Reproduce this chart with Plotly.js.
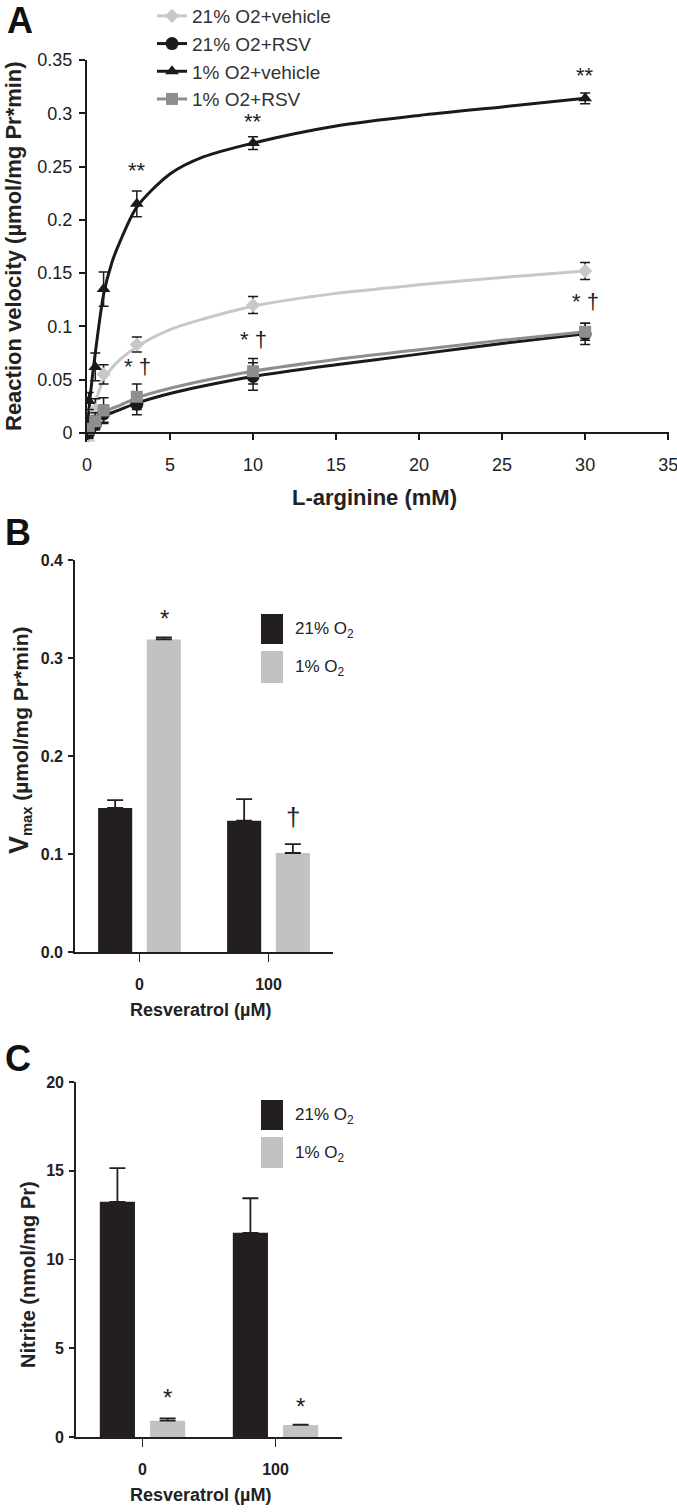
<!DOCTYPE html>
<html><head><meta charset="utf-8">
<script src="https://cdn.plot.ly/plotly-3.0.1.min.js"></script>
<style>html,body{margin:0;padding:0;background:#fff}</style>
</head><body><div id="chart" style="width:677px;height:1512px"></div>
<script>
// ---- Panel A data ----
const argX = [0.1, 0.5, 1, 3, 10, 30];
const veh21 = [-0.008, 0.022, 0.055, 0.083, 0.120, 0.152];
const veh21Err = [0.005, 0.010, 0.009, 0.007, 0.008, 0.008];
const rsv21 = [0.000, 0.008, 0.018, 0.027, 0.053, 0.093];
const rsv21Err = [0.005, 0.008, 0.008, 0.010, 0.013, 0.010];
const veh1 = [0.030, 0.062, 0.135, 0.215, 0.272, 0.314];
const veh1Err = [0.008, 0.013, 0.016, 0.012, 0.006, 0.005];
const rsv1 = [0.004, 0.011, 0.021, 0.034, 0.058, 0.095];
const rsv1Err = [0.005, 0.008, 0.012, 0.012, 0.012, 0.008];
// fitted curves
const fitX = [0, 0.2, 0.5, 1, 1.5, 2, 3, 5, 7, 10, 15, 20, 25, 30];
const fitVeh21 = [-0.010, 0.002, 0.028, 0.050, 0.061, 0.069, 0.081, 0.097, 0.107, 0.119, 0.131, 0.139, 0.146, 0.152];
const fitRsv21 = [0, 0.005, 0.010, 0.016, 0.019, 0.022, 0.028, 0.037, 0.044, 0.053, 0.064, 0.074, 0.084, 0.093];
const fitVeh1 = [0, 0.035, 0.075, 0.130, 0.160, 0.180, 0.212, 0.243, 0.259, 0.272, 0.288, 0.298, 0.306, 0.314];
const fitRsv1 = [0, 0.006, 0.012, 0.019, 0.023, 0.026, 0.033, 0.042, 0.049, 0.058, 0.069, 0.078, 0.087, 0.095];
const seriesNames = ['21% O2+vehicle', '21% O2+RSV', '1% O2+vehicle', '1% O2+RSV'];
const xTicksA = [0, 5, 10, 15, 20, 25, 30, 35];
const yTicksA = [0, 0.05, 0.1, 0.15, 0.2, 0.25, 0.3, 0.35];

// ---- Panel B data ----
const rsvCats = ['0', '100'];
const vmax21 = [0.147, 0.134];
const vmax21Err = [0.008, 0.022];
const vmax1 = [0.319, 0.101];
const vmax1Err = [0.002, 0.009];

// ---- Panel C data ----
const nitrite21 = [13.25, 11.5];
const nitrite21Err = [1.9, 1.95];
const nitrite1 = [0.92, 0.68];
const nitrite1Err = [0.13, 0.02];

const W = 677, H = 1512;
const px = v => v / W;
const py = v => 1 - v / H;
const FA = 'Liberation Sans, Arial, sans-serif';
const BLK = '#1a1a1a', LG = '#c8c8c8', MG = '#8e8e8e';
const BARBLK = '#231f20', BARGRY = '#c1c2c4';

const styles = [
  {color: LG, symbol: 'diamond', size: 11},
  {color: BLK, symbol: 'circle', size: 13},
  {color: BLK, symbol: 'triangle-up', size: 12},
  {color: MG, symbol: 'square', size: 12}
];
const dataY = [veh21, rsv21, veh1, rsv1];
const dataE = [veh21Err, rsv21Err, veh1Err, rsv1Err];
const fitY = [fitVeh21, fitRsv21, fitVeh1, fitRsv1];

const traces = [];
for (let i = 0; i < 4; i++) {
  traces.push({
    x: fitX, y: fitY[i], xaxis: 'x', yaxis: 'y', mode: 'lines',
    line: {color: styles[i].color, width: 3, shape: 'spline', smoothing: 0.8},
    showlegend: false, hoverinfo: 'skip'
  });
}
for (let i = 0; i < 4; i++) {
  traces.push({
    x: argX, y: dataY[i], xaxis: 'x', yaxis: 'y', mode: 'markers',
    marker: {color: styles[i].color, symbol: styles[i].symbol, size: styles[i].size, line: {width: 0}},
    error_y: {type: 'data', array: dataE[i], visible: true, color: BLK, thickness: 1.5, width: 5},
    showlegend: false
  });
}
for (let i = 0; i < 4; i++) {
  traces.push({
    x: [null], y: [null], xaxis: 'x', yaxis: 'y', mode: 'lines+markers',
    name: seriesNames[i], legendgroup: 'g' + i,
    line: {color: styles[i].color, width: 3},
    marker: {color: styles[i].color, symbol: styles[i].symbol, size: styles[i].size}
  });
}
// Panel B bars
traces.push({type: 'bar', x: rsvCats, y: vmax21, xaxis: 'x2', yaxis: 'y2', marker: {color: BARBLK},
  error_y: {type: 'data', array: vmax21Err, arrayminus: [0, 0], symmetric: false, color: BARBLK, thickness: 1.8, width: 8},
  showlegend: false});
traces.push({type: 'bar', x: rsvCats, y: vmax1, xaxis: 'x2', yaxis: 'y2', marker: {color: BARGRY},
  error_y: {type: 'data', array: vmax1Err, arrayminus: [0, 0], symmetric: false, color: BARBLK, thickness: 1.8, width: 8},
  showlegend: false});
// Panel C bars
traces.push({type: 'bar', x: rsvCats, y: nitrite21, xaxis: 'x3', yaxis: 'y3', marker: {color: BARBLK},
  error_y: {type: 'data', array: nitrite21Err, arrayminus: [0, 0], symmetric: false, color: BARBLK, thickness: 1.8, width: 8},
  showlegend: false});
traces.push({type: 'bar', x: rsvCats, y: nitrite1, xaxis: 'x3', yaxis: 'y3', marker: {color: BARGRY},
  error_y: {type: 'data', array: nitrite1Err, arrayminus: [0, 0], symmetric: false, color: BARBLK, thickness: 1.8, width: 8},
  showlegend: false});

const axA = {showline: true, linecolor: BLK, linewidth: 2, ticks: 'outside', ticklen: 6, tickwidth: 2, tickcolor: BLK,
  showgrid: false, zeroline: false, tickfont: {family: FA, size: 18, color: '#222'}, ticklabeloverflow: 'allow'};
const axB = {showline: true, linecolor: BARBLK, linewidth: 1.8, ticks: 'outside', tickwidth: 1.8, tickcolor: BARBLK,
  showgrid: false, zeroline: false, tickfont: {family: FA, size: 16, color: '#222', weight: 'bold'}};

const ann = [];
function txt(x, y, t, o) { ann.push(Object.assign({x: x, y: y, text: t, showarrow: false, xanchor: 'center', yanchor: 'middle'}, o)); }
const P = {xref: 'paper', yref: 'paper'};
// panel letters
const letF = {family: FA, size: 36, color: '#111', weight: 'bold'};
txt(px(20), py(20), 'A', Object.assign({font: letF}, P));
txt(px(18), py(532), 'B', Object.assign({font: letF}, P));
txt(px(18), py(1058), 'C', Object.assign({font: letF}, P));
// axis titles
txt(px(14), py(246), 'Reaction velocity (µmol/mg Pr*min)', Object.assign({textangle: -90,
  font: {family: FA, size: 22, color: '#222', weight: 'bold'}}, P));
txt(px(374), py(497), 'L-arginine (mM)', Object.assign({font: {family: FA, size: 22, color: '#222', weight: 'bold'}}, P));
txt(px(19), py(740), '<span style="font-size:27px">V</span><sub>max</sub> (µmol/mg Pr*min)', Object.assign({textangle: -90,
  font: {family: FA, size: 21, color: '#222', weight: 'bold'}}, P));
txt(px(200), py(1010), 'Resveratrol (µM)', Object.assign({font: {family: FA, size: 18, color: '#222', weight: 'bold'}}, P));
txt(px(28), py(1275), 'Nitrite (nmol/mg Pr)', Object.assign({textangle: -90,
  font: {family: FA, size: 20, color: '#222', weight: 'bold'}}, P));
txt(px(200), py(1495), 'Resveratrol (µM)', Object.assign({font: {family: FA, size: 18, color: '#222', weight: 'bold'}}, P));
// significance marks, panel A
const sigF = {family: FA, size: 22, color: '#222'};
txt(3, 0.246, '**', {xref: 'x', yref: 'y', font: sigF});
txt(10, 0.292, '**', {xref: 'x', yref: 'y', font: sigF});
txt(30, 0.335, '**', {xref: 'x', yref: 'y', font: sigF});
txt(3.05, 0.062, '* †', {xref: 'x', yref: 'y', font: sigF});
txt(10.05, 0.088, '* †', {xref: 'x', yref: 'y', font: sigF});
txt(30.05, 0.123, '* †', {xref: 'x', yref: 'y', font: sigF});
// panel B/C marks
txt(0.19, 0.340, '*', {xref: 'x2', yref: 'y2', font: {family: FA, size: 24, color: '#222'}});
txt(1.19, 0.138, '†', {xref: 'x2', yref: 'y2', font: {family: FA, size: 26, color: '#222'}});
txt(0.185, 2.2, '*', {xref: 'x3', yref: 'y3', font: {family: FA, size: 24, color: '#222'}});
txt(1.185, 1.7, '*', {xref: 'x3', yref: 'y3', font: {family: FA, size: 24, color: '#222'}});
// legend labels B, C
const legF = {family: FA, size: 17, color: '#222'};
txt(px(293), py(630), '21% O<sub>2</sub>', Object.assign({xanchor: 'left', font: legF}, P));
txt(px(293), py(668), '1% O<sub>2</sub>', Object.assign({xanchor: 'left', font: legF}, P));
txt(px(293), py(1116), '21% O<sub>2</sub>', Object.assign({xanchor: 'left', font: legF}, P));
txt(px(293), py(1154), '1% O<sub>2</sub>', Object.assign({xanchor: 'left', font: legF}, P));

const shapes = [
  {type: 'rect', xref: 'paper', yref: 'paper', x0: px(261), x1: px(283), y0: py(644), y1: py(614), fillcolor: BARBLK, line: {width: 0}},
  {type: 'rect', xref: 'paper', yref: 'paper', x0: px(261), x1: px(283), y0: py(683), y1: py(651), fillcolor: BARGRY, line: {width: 0}},
  {type: 'rect', xref: 'paper', yref: 'paper', x0: px(261), x1: px(283), y0: py(1130), y1: py(1100), fillcolor: BARBLK, line: {width: 0}},
  {type: 'rect', xref: 'paper', yref: 'paper', x0: px(261), x1: px(283), y0: py(1168), y1: py(1137), fillcolor: BARGRY, line: {width: 0}}
];

const layout = {
  width: W, height: H, margin: {l: 0, r: 0, t: 0, b: 0, autoexpand: false},
  paper_bgcolor: '#fff', plot_bgcolor: 'rgba(0,0,0,0)',
  barmode: 'group', bargap: 0.245, bargroupgap: 0.3,
  showlegend: true,
  legend: {x: px(152), y: py(-3), xanchor: 'left', yanchor: 'top', bgcolor: 'rgba(0,0,0,0)',
    font: {family: FA, size: 19, color: '#333'}, tracegroupgap: 0, traceorder: 'grouped'},
  xaxis: Object.assign({}, axA, {domain: [px(87), px(668.5)], range: [0, 35.02], anchor: 'free', position: py(433),
    tickmode: 'array', tickvals: xTicksA, ticklabelstandoff: 9}),
  yaxis: Object.assign({}, axA, {domain: [py(441.5), py(60)], range: [-0.008, 0.35], anchor: 'x',
    tickmode: 'array', tickvals: yTicksA, ticklabelstandoff: 3}),
  xaxis2: Object.assign({}, axB, {domain: [px(75), px(333)], type: 'category', range: [-0.5, 1.5], anchor: 'y2', ticklen: 8, ticklabelstandoff: 9}),
  yaxis2: Object.assign({}, axB, {domain: [py(952), py(560)], range: [0, 0.4], dtick: 0.1, tick0: 0, tickformat: '.1f', anchor: 'x2', ticklen: 5, ticklabelstandoff: 2}),
  xaxis3: Object.assign({}, axB, {domain: [px(76), px(342)], type: 'category', range: [-0.5, 1.5], anchor: 'y3', ticklen: 8, ticklabelstandoff: 9}),
  yaxis3: Object.assign({}, axB, {domain: [py(1437), py(1082)], range: [0, 20], dtick: 5, tick0: 0, anchor: 'x3', ticklen: 5, ticklabelstandoff: 2}),
  annotations: ann, shapes: shapes
};
Plotly.newPlot('chart', traces, layout, {displayModeBar: false, staticPlot: true});
</script></body></html>
